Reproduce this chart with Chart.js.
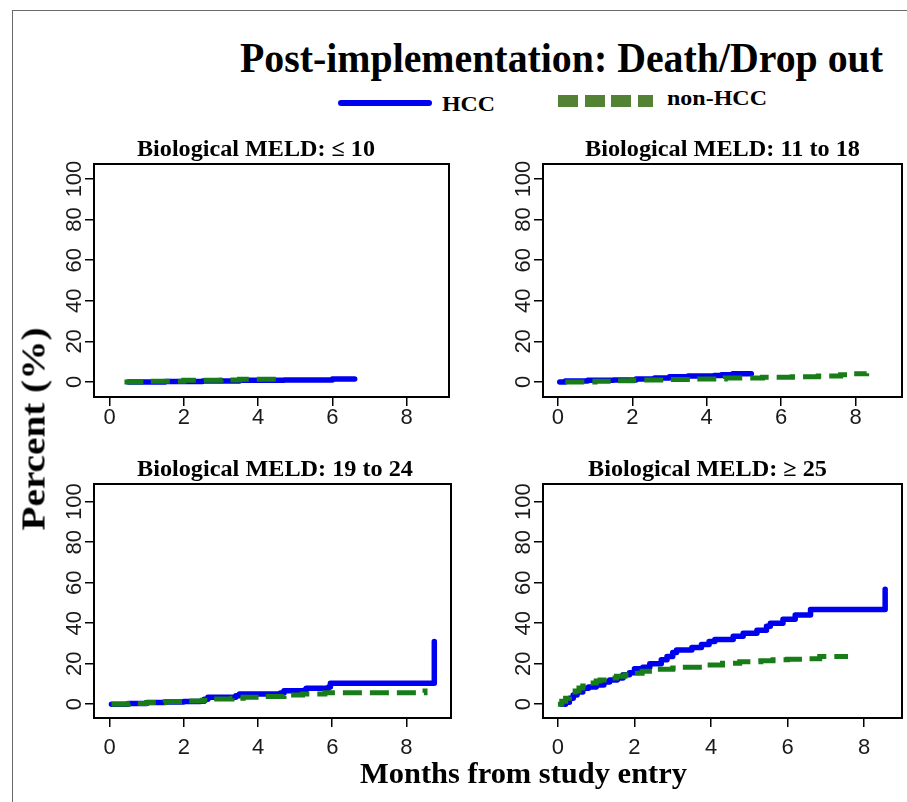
<!DOCTYPE html>
<html><head><meta charset="utf-8">
<script src="https://cdn.jsdelivr.net/npm/chart.js@4.4.1/dist/chart.umd.min.js"></script>
<style>
html,body{margin:0;padding:0;background:#fff;}
body{width:907px;height:802px;position:relative;overflow:hidden;}
.t{position:absolute;white-space:nowrap;line-height:1;font-family:'Liberation Serif','Times New Roman',serif;font-weight:bold;color:#000;}
canvas{position:absolute;}
</style></head><body>
<div style="position:absolute;left:12px;top:10px;width:1000px;height:1000px;border-left:1.5px solid #6a6a6a;border-top:1.5px solid #6a6a6a;"></div>
<script>
// ---------- data ----------
const chartTitle = 'Post-implementation: Death/Drop out';
const seriesNames = ['HCC', 'non-HCC'];
const panelTitles = ['Biological MELD: \u2264 10', 'Biological MELD: 11 to 18', 'Biological MELD: 19 to 24', 'Biological MELD: \u2265 25'];
const xAxisTitle = 'Months from study entry';
const yAxisTitle = 'Percent (%)';
const xTickValues = [0, 2, 4, 6, 8];
const yTickValues = [0, 20, 40, 60, 80, 100];

// MELD <= 10
const meld10HccX = [0.5, 1.5, 2.5, 3.5, 4.7, 6.0, 6.6];
const meld10HccY = [0, 0.2, 0.5, 0.8, 1.0, 1.5, 1.5];
const meld10NonX = [0.4, 1.0, 2.0, 3.0, 3.5, 4.5];
const meld10NonY = [0, 0.3, 0.8, 1.0, 1.3, 1.5];
// MELD 11-18
const meld11HccX = [0.05, 0.2, 0.8, 1.5, 2.1, 2.6, 3.0, 3.5, 4.2, 4.4, 4.7, 5.2];
const meld11HccY = [0, 0.5, 0.8, 1.0, 1.5, 2.0, 2.6, 3.0, 3.2, 3.6, 4.0, 4.0];
const meld11NonX = [0.2, 1.0, 1.6, 2.0, 3.0, 3.6, 4.5, 5.5, 6.3, 7.0, 7.6, 7.8, 8.3];
const meld11NonY = [0, 0.3, 0.6, 1.0, 1.2, 1.5, 2.0, 2.3, 2.6, 3.0, 3.6, 4.0, 4.3];
// MELD 19-24
const meld19HccX = [0.05, 0.5, 1.0, 1.5, 2.0, 2.45, 2.55, 2.65, 3.4, 3.5, 4.6, 4.7, 5.25, 5.3, 5.9, 5.95, 8.75, 8.75];
const meld19HccY = [0, 0.4, 0.8, 1.1, 1.4, 1.5, 2.5, 3.5, 4.2, 5.0, 5.6, 6.7, 7.0, 7.9, 8.5, 10.4, 10.4, 30.9];
const meld19NonX = [0.05, 0.5, 1.0, 1.5, 2.0, 2.5, 2.7, 3.3, 3.6, 4.2, 4.7, 5.2, 5.8, 8.45, 8.5];
const meld19NonY = [0, 0.3, 0.8, 1.2, 1.6, 2.0, 2.6, 3.0, 3.4, 3.8, 4.6, 5.0, 5.7, 5.7, 7.7];
// MELD >= 25
const meld25HccX = [0.1, 0.2, 0.3, 0.4, 0.5, 0.65, 0.8, 1.0, 1.2, 1.35, 1.55, 1.7, 1.87, 2.0, 2.22, 2.4, 2.7, 2.85, 3.0, 3.1, 3.5, 3.75, 3.95, 4.1, 4.58, 4.84, 5.2, 5.45, 5.55, 5.88, 6.2, 6.6, 8.55, 8.55];
const meld25HccY = [0, 1, 3, 4.6, 6, 7.9, 8.5, 9.5, 11, 12, 13, 14.5, 15.5, 17.5, 18.3, 20, 22, 23.5, 25.5, 26.8, 28, 29.5, 31, 32, 33.5, 35, 36.5, 38.5, 40, 42, 44, 46.8, 46.8, 56.7];
const meld25NonX = [0, 0.1, 0.2, 0.3, 0.45, 0.55, 0.65, 0.8, 1.0, 1.1, 1.3, 1.53, 1.75, 1.96, 2.2, 2.57, 3.0, 3.18, 3.88, 4.3, 4.75, 5.3, 5.62, 6.0, 6.49, 6.84, 7.58];
const meld25NonY = [0, 1.5, 3, 4.6, 6.5, 8, 9, 10.5, 11.5, 12, 13, 13.8, 14.6, 15.3, 16.3, 17.3, 17.9, 18.3, 19.4, 20.2, 21, 21.5, 21.9, 22.2, 22.4, 23.5, 23.5];

// ---------- layout / style ----------
const BLUE = '#0000f0';
const GREEN = '#187c18';
const LEGEND_GREEN = '#548235';
const panels = [
  {L:94, R:449, T:164, B:397, xmin:-0.42, xmax:9.14, ymin:-7.4, ymax:107.4, xPad:-1, title:{c:256, w:238, base:156},
   hx:meld10HccX, hy:meld10HccY, nx:meld10NonX, ny:meld10NonY},
  {L:543, R:902, T:164, B:397, xmin:-0.40, xmax:9.25, ymin:-7.4, ymax:107.4, xPad:-1, title:{c:722.5, w:275, base:156},
   hx:meld11HccX, hy:meld11HccY, nx:meld11NonX, ny:meld11NonY},
  {L:94, R:451, T:484, B:718, xmin:-0.42, xmax:9.20, ymin:-6.8, ymax:108.7, xPad:8, title:{c:275, w:276, base:476.7},
   hx:meld19HccX, hy:meld19HccY, nx:meld19NonX, ny:meld19NonY},
  {L:543, R:902, T:484, B:718, xmin:-0.39, xmax:8.99, ymin:-6.8, ymax:108.7, xPad:8, title:{c:707.5, w:239, base:476.7},
   hx:meld25HccX, hy:meld25HccY, nx:meld25NonX, ny:meld25NonY}
];

function pts(xs, ys) { return xs.map((x, i) => ({x: x, y: ys[i]})); }

const boxPlugin = {
  id: 'box',
  afterDraw(c) {
    const a = c.chartArea, ctx = c.ctx;
    ctx.save(); ctx.strokeStyle = '#000'; ctx.lineWidth = 2;
    ctx.strokeRect(a.left, a.top, a.right - a.left, a.bottom - a.top);
    ctx.restore();
  }
};

function makeChart(g, i) {
  const padT = 8, padR = 4, yW = 60, xH = 50;
  const W = g.R - g.L + yW + padR, H = g.B - g.T + padT + xH;
  const cv = document.createElement('canvas');
  cv.width = W; cv.height = H;
  cv.style.left = (g.L - yW) + 'px'; cv.style.top = (g.T - padT) + 'px';
  cv.style.width = W + 'px'; cv.style.height = H + 'px';
  document.body.appendChild(cv);
  const tickFont = {family: "'Liberation Sans', Arial, sans-serif", size: 22};
  const gridOpt = {drawOnChartArea: false, drawTicks: true, tickLength: 9, color: '#000', lineWidth: 1.5};
  new Chart(cv, {
    type: 'line',
    data: {datasets: [
      {label: seriesNames[1], data: pts(g.nx, g.ny), borderColor: GREEN, backgroundColor: GREEN, borderWidth: 5,
       borderDash: [19, 8], borderCapStyle: 'butt', stepped: true, pointRadius: 0, fill: false, order: 0},
      {label: seriesNames[0], data: pts(g.hx, g.hy), borderColor: BLUE, backgroundColor: BLUE, borderWidth: 5.5,
       borderCapStyle: 'round', borderJoinStyle: 'round', stepped: true, pointRadius: 0, fill: false, order: 1}
    ]},
    options: {
      responsive: false, animation: false, devicePixelRatio: 1,
      layout: {padding: {top: padT, right: padR, left: 0, bottom: 0}},
      plugins: {legend: {display: false}, tooltip: {enabled: false}, title: {display: false}},
      scales: {
        x: {type: 'linear', min: g.xmin, max: g.xmax,
            afterBuildTicks: s => { s.ticks = xTickValues.map(v => ({value: v})); },
            afterFit: s => { s.height = xH; },
            grid: gridOpt, border: {display: false},
            ticks: {font: tickFont, color: '#1a1a1a', padding: g.xPad, minRotation: 0, maxRotation: 0, autoSkip: false,
                    callback: v => String(v)}},
        y: {type: 'linear', min: g.ymin, max: g.ymax,
            afterBuildTicks: s => { s.ticks = yTickValues.map(v => ({value: v})); },
            afterFit: s => { s.width = yW; },
            grid: gridOpt, border: {display: false},
            ticks: {font: tickFont, color: '#1a1a1a', padding: -8.5, minRotation: 90, maxRotation: 90, crossAlign: 'center',
                    autoSkip: false, callback: v => String(v)}}
      }
    },
    plugins: [boxPlugin]
  });
}
panels.forEach(makeChart);

// ---------- text ----------
function addText(str, o) {
  const el = document.createElement('div');
  el.className = 't'; el.textContent = str;
  el.style.fontSize = o.size + 'px';
  document.body.appendChild(el);
  const w = el.getBoundingClientRect().width;
  const s = o.width ? o.width / w : 1;
  const left = (o.left !== undefined) ? o.left : o.center - w * s / 2;
  el.style.left = left + 'px';
  el.style.top = (o.baseline - 0.8375 * o.size) + 'px';
  el.style.transformOrigin = '0 0';
  el.style.transform = 'scaleX(' + s + ')';
  return el;
}
addText(chartTitle, {size: 43, left: 240, width: 643, baseline: 72});
panels.forEach((g, i) => addText(panelTitles[i], {size: 23, center: g.title.c, width: g.title.w, baseline: g.title.base}));
addText(xAxisTitle, {size: 30, left: 360, width: 327, baseline: 783});
addText(seriesNames[0], {size: 22, left: 442, width: 53, baseline: 111.7});
addText(seriesNames[1], {size: 22, left: 667, width: 100, baseline: 105.7});

// legend keys
(function () {
  const line = document.createElement('div');
  line.style.cssText = 'position:absolute;left:338px;top:100px;width:94px;height:6px;border-radius:3px;background:' + BLUE + ';';
  document.body.appendChild(line);
  [[558, 20], [584.7, 20], [611.3, 20], [638, 15]].forEach(d => {
    const sq = document.createElement('div');
    sq.style.cssText = 'position:absolute;top:95px;height:12px;left:' + d[0] + 'px;width:' + d[1] + 'px;background:' + LEGEND_GREEN + ';';
    document.body.appendChild(sq);
  });
})();

// rotated y title
(function () {
  const size = 33;
  const el = document.createElement('div');
  el.className = 't'; el.textContent = yAxisTitle;
  el.style.fontSize = size + 'px';
  document.body.appendChild(el);
  const w = el.getBoundingClientRect().width;
  const s = 203 / w;
  const cx = 45 - (0.8375 * size - size / 2);
  el.style.left = cx + 'px';
  el.style.top = '428.5px';
  el.style.transformOrigin = '0 0';
  el.style.transform = 'rotate(-90deg) scaleX(' + s + ') translate(-50%,-50%)';
})();
</script>
</body></html>
